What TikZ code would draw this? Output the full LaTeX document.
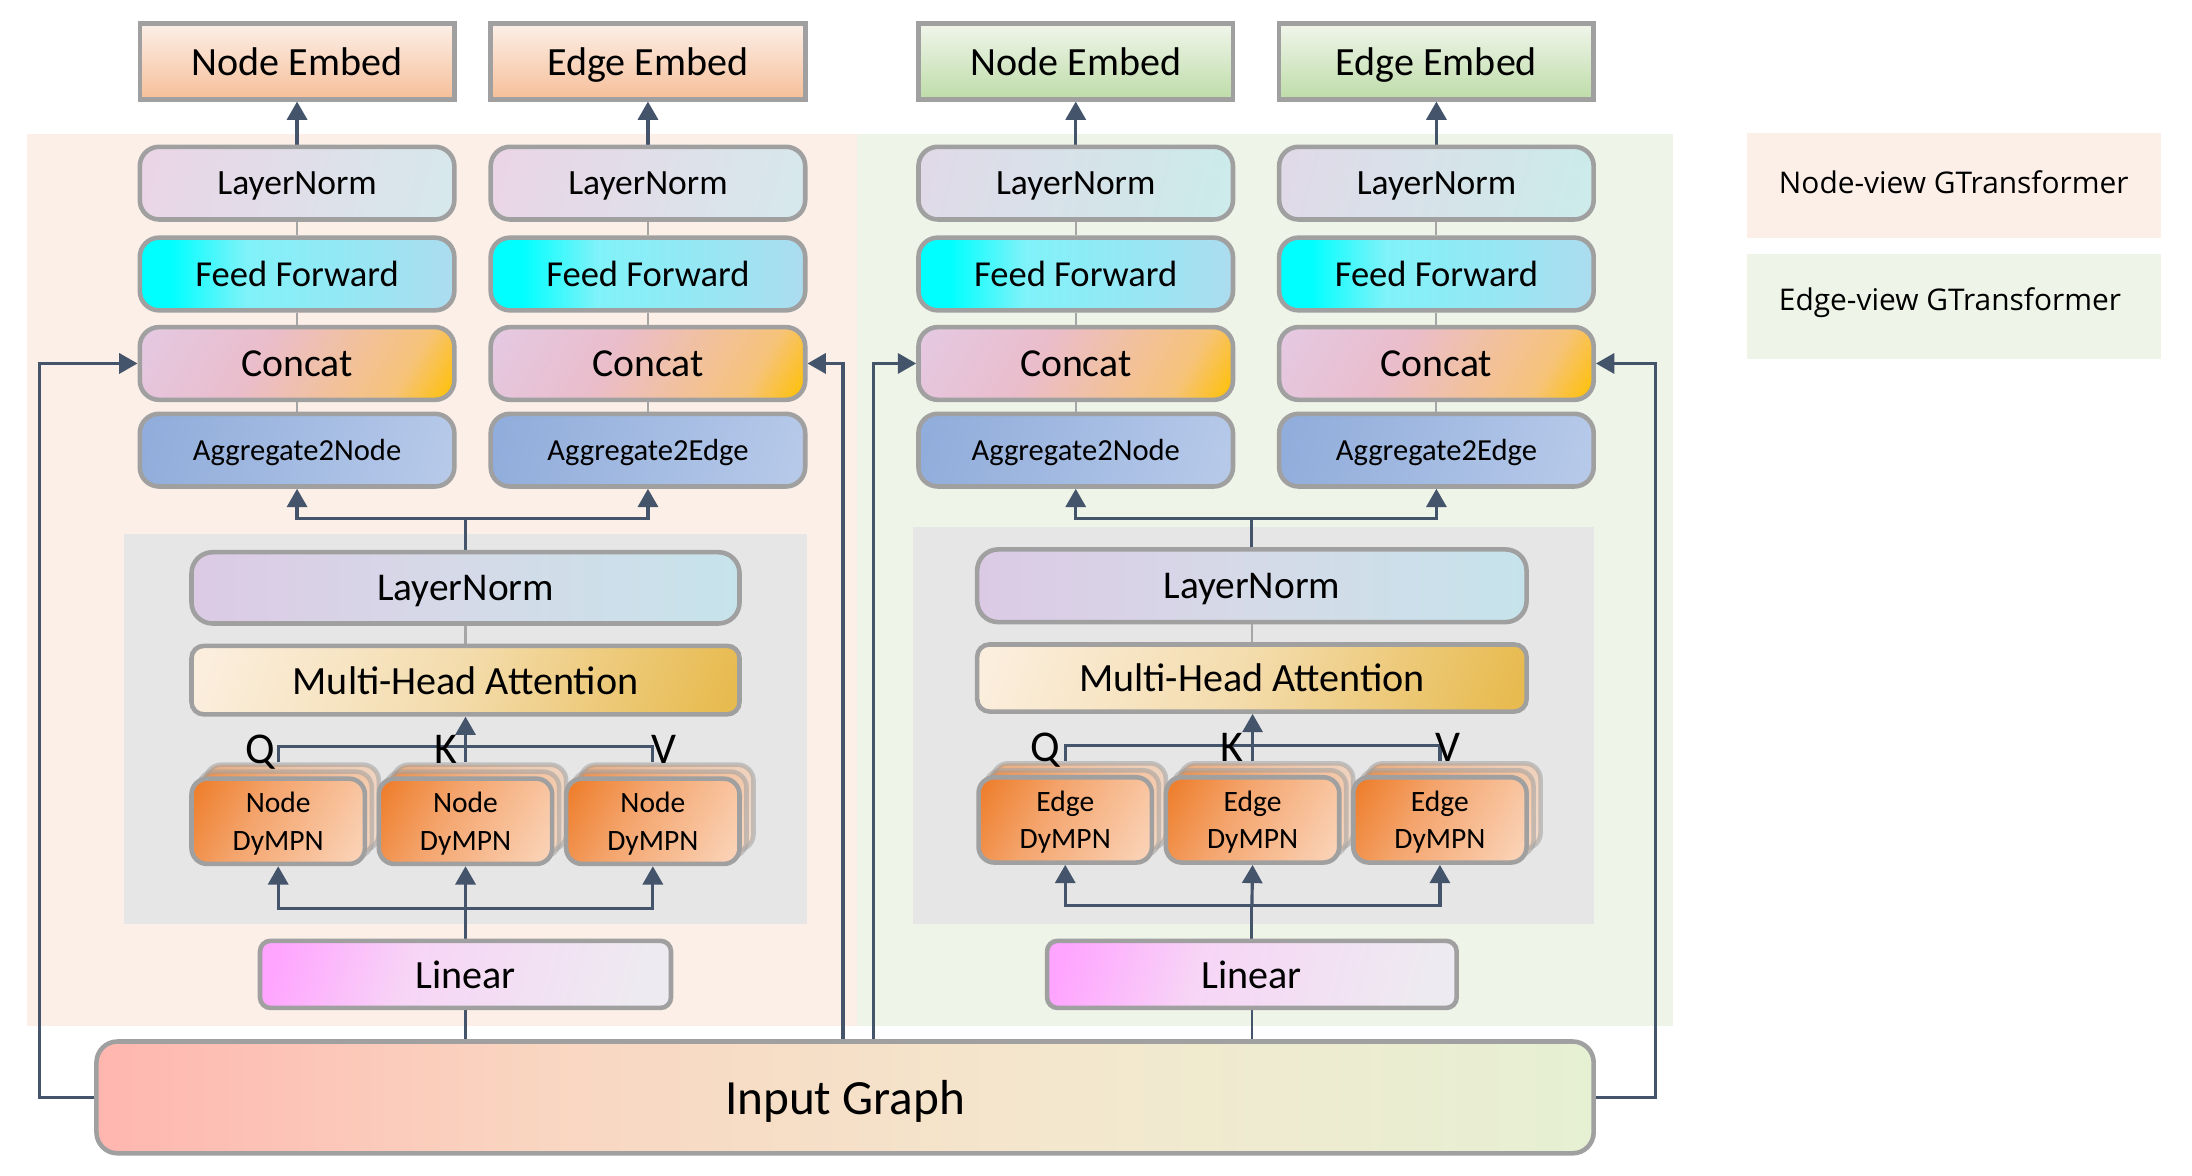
\documentclass[tikz,border=0pt]{standalone}
\usepackage{fontspec}
\setmainfont{Carlito}
\newfontfamily\legfont{Open Sans}
\usetikzlibrary{arrows.meta}
\definecolor{lnc}{HTML}{44546A}
\definecolor{bord}{HTML}{A0A0A0}
\definecolor{thinc}{HTML}{A6A6A6}
\definecolor{bgP}{HTML}{FCEFE7}
\definecolor{bgG}{HTML}{EEF4E8}
\definecolor{bgGray}{HTML}{E6E6E6}
\definecolor{embOt}{HTML}{FCEFE7}
\definecolor{embOb}{HTML}{F6BF99}
\definecolor{embGt}{HTML}{F0F6EB}
\definecolor{embGb}{HTML}{BEDCA8}
\definecolor{lncA}{HTML}{EAD5E6}
\definecolor{lncB}{HTML}{D6E8EC}
\definecolor{lncC}{HTML}{E0DAE8}
\definecolor{lncD}{HTML}{CCEBEA}
\definecolor{ffa}{HTML}{00FFFF}
\definecolor{ffb}{HTML}{80F2F9}
\definecolor{ffc}{HTML}{ACDCEF}
\definecolor{cca}{HTML}{E4C9E3}
\definecolor{ccb}{HTML}{EABDCB}
\definecolor{ccc}{HTML}{F2C19A}
\definecolor{cce}{HTML}{F6C37A}
\definecolor{ccd}{HTML}{FFC000}
\definecolor{aga}{HTML}{91ADDB}
\definecolor{agb}{HTML}{B6C9E9}
\definecolor{bla}{HTML}{DCCAE5}
\definecolor{blb}{HTML}{D5DAE8}
\definecolor{blc}{HTML}{C6E3EB}
\definecolor{mha}{HTML}{FBEEDD}
\definecolor{mhb}{HTML}{F3DBAA}
\definecolor{mhc}{HTML}{E8BB50}
\definecolor{dya}{HTML}{EE7E2C}
\definecolor{dyb}{HTML}{F4A46C}
\definecolor{dyc}{HTML}{FAD1B4}
\definecolor{lia}{HTML}{FFA4FF}
\definecolor{lib}{HTML}{F7D5F6}
\definecolor{lic}{HTML}{EEEAF1}
\definecolor{ina}{HTML}{FFB6AF}
\definecolor{inb}{HTML}{F9D6C1}
\definecolor{inc}{HTML}{F3E8CE}
\definecolor{ind}{HTML}{E6F0D3}
\pgfdeclarehorizontalshading{lnshA}{100bp}{color(0bp)=(lncA); color(22bp)=(lncA); color(78bp)=(lncB); color(100bp)=(lncB)}
\pgfdeclarehorizontalshading{lnshB}{100bp}{color(0bp)=(lncC); color(22bp)=(lncC); color(78bp)=(lncD); color(100bp)=(lncD)}
\pgfdeclarehorizontalshading{ffsh}{100bp}{color(0bp)=(ffa); color(25bp)=(ffa); color(30bp)=(ffa); color(42bp)=(ffb); color(75bp)=(ffc); color(100bp)=(ffc)}
\pgfdeclarehorizontalshading{ccsh}{100bp}{color(0bp)=(cca); color(16bp)=(cca); color(42bp)=(ccb); color(60bp)=(ccc); color(72bp)=(cce); color(84bp)=(ccd); color(100bp)=(ccd)}
\pgfdeclarehorizontalshading{agsh}{100bp}{color(0bp)=(aga); color(22bp)=(aga); color(78bp)=(agb); color(100bp)=(agb)}
\pgfdeclarehorizontalshading{blsh}{100bp}{color(0bp)=(bla); color(25bp)=(bla); color(50bp)=(blb); color(75bp)=(blc); color(100bp)=(blc)}
\pgfdeclarehorizontalshading{mhsh}{100bp}{color(0bp)=(mha); color(20bp)=(mha); color(50bp)=(mhb); color(80bp)=(mhc); color(100bp)=(mhc)}
\pgfdeclarehorizontalshading{dysh}{100bp}{color(0bp)=(dya); color(18bp)=(dya); color(42bp)=(dyb); color(80bp)=(dyc); color(100bp)=(dyc)}
\pgfdeclarehorizontalshading{lish}{100bp}{color(0bp)=(lia); color(22bp)=(lia); color(42bp)=(lib); color(75bp)=(lic); color(100bp)=(lic)}
\pgfdeclarehorizontalshading{insh}{100bp}{color(0bp)=(ina); color(25bp)=(ina); color(40bp)=(inb); color(58bp)=(inc); color(75bp)=(ind); color(100bp)=(ind)}
\pgfdeclarelayer{bgl}
\pgfdeclarelayer{lnl}
\pgfsetlayers{bgl,lnl,main}
\tikzset{
 bx/.style={draw=bord, line width=1.3pt, inner sep=0pt, align=center, text depth=0pt},
 embO/.style={bx, top color=embOt, bottom color=embOb, font=\fontsize{11.4}{13}\selectfont},
 embG/.style={bx, top color=embGt, bottom color=embGb, font=\fontsize{11.4}{13}\selectfont},
 normL/.style={bx, rounded corners=5.5pt, shade, shading=lnshA, shading angle=-15, font=\fontsize{10.1}{12}\selectfont},
 normR/.style={bx, rounded corners=5.5pt, shade, shading=lnshB, shading angle=-15, font=\fontsize{10.1}{12}\selectfont},
 ffbox/.style={bx, rounded corners=5.5pt, shade, shading=ffsh, font=\fontsize{10.4}{12}\selectfont},
 catbox/.style={bx, rounded corners=5.5pt, shade, shading=ccsh, shading angle=-30, font=\fontsize{11.3}{13}\selectfont},
 aggbox/.style={bx, rounded corners=5.5pt, shade, shading=agsh, shading angle=-15, font=\fontsize{8.7}{10}\selectfont},
 blnbox/.style={bx, rounded corners=6pt, shade, shading=blsh, font=\fontsize{11.2}{13}\selectfont},
 mhabox/.style={bx, rounded corners=3.5pt, shade, shading=mhsh, shading angle=-20, font=\fontsize{11.4}{13}\selectfont},
 dybox/.style={draw=bord, line width=1.3pt, inner sep=0pt, align=center, rounded corners=4.5pt, shade, shading=dysh, shading angle=-30, font=\fontsize{8.4}{10.7}\selectfont},
 dyback/.style={dybox, opacity=0.55},
 linbox/.style={bx, rounded corners=3pt, shade, shading=lish, shading angle=-15, font=\fontsize{11.4}{13}\selectfont},
 inpbox/.style={bx, rounded corners=6pt, shade, shading=insh, font=\fontsize{14}{16}\selectfont},
 arr/.style={draw=lnc, line width=0.9pt, -{Triangle[width=5.7pt,length=5.2pt]}},
 lnk/.style={draw=lnc, line width=0.9pt},
 thinl/.style={draw=thinc, line width=0.6pt},
 qkv/.style={font=\fontsize{12.5}{14}\selectfont, inner sep=0pt, anchor=base},
 legtext/.style={font=\legfont\fontsize{8.5}{10}\selectfont, inner sep=0pt, anchor=west},
}
\newcommand\mkbox[7]{\node[#6, minimum width={((#4)-(#2))*0.3977pt}, minimum height={((#5)-(#3))*0.3977pt}] (#1) at ({((#2)+(#4))/2},{((#3)+(#5))/2}) {#7};}
\newcommand\dygrp[4]{%
 \mkbox{#1b}{(#2)+10}{(#3)-10}{(#2)+134}{(#3)+51}{dyback}{}
 \mkbox{#1a}{(#2)+5}{(#3)-5}{(#2)+129}{(#3)+56}{dyback}{}
 \mkbox{#1}{#2}{#3}{(#2)+124}{(#3)+61}{dybox}{#4}}
\begin{document}
\begin{tikzpicture}[x=0.3977pt,y=-0.3977pt]
\useasboundingbox (0,0) rectangle (1568,841);
\begin{pgfonlayer}{bgl}
 \fill[bgP] (19,96) rectangle (613,734);
 \fill[bgG] (613,96) rectangle (1197,734);
 \fill[bgGray] (89,382) rectangle (577,661);
 \fill[bgGray] (653,377) rectangle (1140,661);
\end{pgfonlayer}
% legend
\mkbox{legP}{1250}{95}{1546}{170}{fill=bgP, inner sep=0pt}{}
\mkbox{legG}{1250}{182}{1546}{257}{fill=bgG, inner sep=0pt}{}
\node[legtext] (legPt) at (1272,130.5) {Node-view GTransformer};
\node[legtext] (legGt) at (1272,216.5) {Edge-view GTransformer};
% top stacks
\mkbox{embA}{100}{17}{325}{71}{embO}{Node Embed}
\mkbox{normA}{100}{105}{325}{157}{normL}{LayerNorm}
\mkbox{ffA}{100}{170}{325}{222}{ffbox}{Feed Forward}
\mkbox{catA}{100}{234}{325}{286}{catbox}{Concat}
\mkbox{aggA}{100}{296}{325}{348}{aggbox}{Aggregate2Node}
\mkbox{embB}{351}{17}{576}{71}{embO}{Edge Embed}
\mkbox{normB}{351}{105}{576}{157}{normL}{LayerNorm}
\mkbox{ffB}{351}{170}{576}{222}{ffbox}{Feed Forward}
\mkbox{catB}{351}{234}{576}{286}{catbox}{Concat}
\mkbox{aggB}{351}{296}{576}{348}{aggbox}{Aggregate2Edge}
\mkbox{embC}{657}{17}{882}{71}{embG}{Node Embed}
\mkbox{normC}{657}{105}{882}{157}{normR}{LayerNorm}
\mkbox{ffC}{657}{170}{882}{222}{ffbox}{Feed Forward}
\mkbox{catC}{657}{234}{882}{286}{catbox}{Concat}
\mkbox{aggC}{657}{296}{882}{348}{aggbox}{Aggregate2Node}
\mkbox{embD}{915}{17}{1140}{71}{embG}{Edge Embed}
\mkbox{normD}{915}{105}{1140}{157}{normR}{LayerNorm}
\mkbox{ffD}{915}{170}{1140}{222}{ffbox}{Feed Forward}
\mkbox{catD}{915}{234}{1140}{286}{catbox}{Concat}
\mkbox{aggD}{915}{296}{1140}{348}{aggbox}{Aggregate2Edge}
% attention blocks
\mkbox{blnL}{137}{395}{529}{446}{blnbox}{LayerNorm}
\mkbox{mhaL}{137}{462}{529}{511}{mhabox}{Multi-Head Attention}
\dygrp{dqL}{137}{557}{Node\\\smash{DyMPN}}
\dygrp{dkL}{271}{557}{Node\\\smash{DyMPN}}
\dygrp{dvL}{405}{557}{Node\\\smash{DyMPN}}
\mkbox{linL}{186}{673}{480}{721}{linbox}{Linear}
\mkbox{blnR}{699}{393}{1092}{445}{blnbox}{LayerNorm}
\mkbox{mhaR}{699}{461}{1092}{509}{mhabox}{Multi-Head Attention}
\dygrp{dqR}{700}{556}{Edge\\\smash{DyMPN}}
\dygrp{dkR}{834}{556}{Edge\\\smash{DyMPN}}
\dygrp{dvR}{968}{556}{Edge\\\smash{DyMPN}}
\mkbox{linR}{749}{673}{1042}{721}{linbox}{Linear}
\mkbox{inp}{69}{745}{1140}{825}{inpbox}{Input Graph}
% Q K V
\node[qkv] (qL) at (186,546) {Q};
\node[qkv] (kL) at (319,546) {K};
\node[qkv] (vL) at (475,546) {V};
\node[qkv] (qR) at (748,545) {Q};
\node[qkv] (kR) at (881,545) {K};
\node[qkv] (vR) at (1036,545) {V};
% junctions
\coordinate (jaL) at (333,371);
\coordinate (jaR) at (895.5,371);
\coordinate (jqL) at (0,534);
\coordinate (jqR) at (0,533);
\coordinate (jbL) at (333,650);
\coordinate (jbR) at (895.5,648);
\coordinate (loopL) at (28,0);
\coordinate (midA) at (603,0);
\coordinate (midB) at (625,0);
\coordinate (loopR) at (1184,0);
\begin{pgfonlayer}{lnl}
\foreach \c in {A,B,C,D} {
 \draw[arr] (norm\c.north) -- (emb\c.south);
 \draw[thinl] (norm\c.south) -- (ff\c.north);
 \draw[thinl] (ff\c.south) -- (cat\c.north);
 \draw[thinl] (cat\c.south) -- (agg\c.north);
}
\foreach \s/\p/\q in {L/A/B,R/C/D} {
 \draw[lnk] (bln\s.north) -- (ja\s);
 \draw[arr] (ja\s) -| (agg\p.south);
 \draw[arr] (ja\s) -| (agg\q.south);
 \draw[thinl] (bln\s.south) -- (mha\s.north);
 \draw[lnk] (dq\s.north |- dq\s b.north) -- (dq\s.north |- jq\s) -| (dv\s.north |- dv\s b.north);
 \draw[arr] (dk\s.north |- dk\s b.north) -- (dk\s.north |- mha\s.south);
 \draw[lnk] (lin\s.north) -- (jb\s);
 \draw[arr] (jb\s) -| (dq\s.south);
 \draw[arr] (jb\s) -| (dv\s.south);
 \draw[arr] (jb\s) -- (dk\s.south);
 \draw[lnc, line width=0.6pt] (lin\s.south) -- (lin\s.south |- inp.north);
}
\draw[arr] (inp.west) -- (inp.west -| loopL) -- (loopL |- catA.west) -- (catA.west);
\draw[arr] (inp.north -| midA) -- (midA |- catB.east) -- (catB.east);
\draw[arr] (inp.north -| midB) -- (midB |- catC.west) -- (catC.west);
\draw[arr] (inp.east) -- (inp.east -| loopR) -- (loopR |- catD.east) -- (catD.east);
\end{pgfonlayer}
\end{tikzpicture}
\end{document}
